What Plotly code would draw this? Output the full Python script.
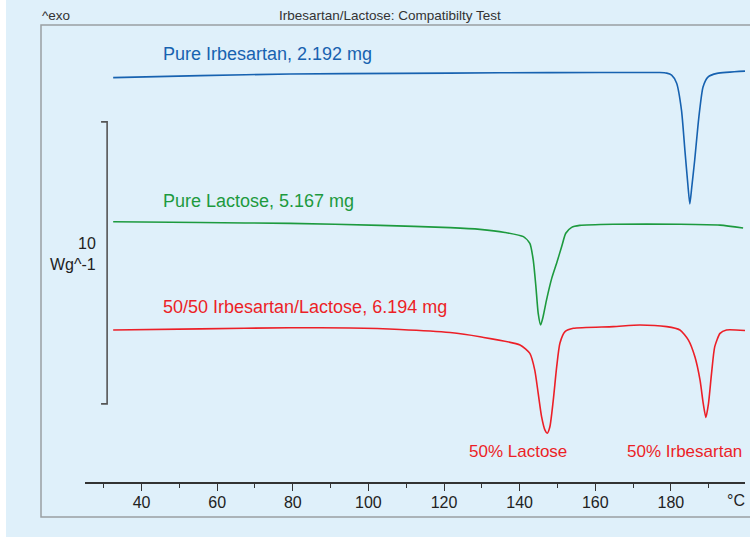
import plotly.graph_objects as go

# Temperature (°C) and heat flow (W/g, curves offset vertically)
irb_T = [32.5, 55.5, 79.3, 108.3, 134.8, 161.2, 177.1, 178.9, 180.2, 181.5, 182.8, 183.7,
         184.5, 185.0, 185.5, 186.3, 187.4, 188.5, 189.8, 192.2, 199.6]
irb_Y = [14.34, 14.41, 14.47, 14.49, 14.51, 14.52, 14.52, 14.50, 14.43, 14.15, 13.19, 11.77,
         10.53, 9.86, 10.43, 11.42, 12.94, 14.01, 14.36, 14.49, 14.57]

lac_T = [32.5, 55.5, 79.3, 103.1, 121.6, 129.5, 136.1, 141.0, 142.7, 143.6, 144.3, 144.9,
         145.55, 146.2, 147.1, 148.5, 149.8, 151.1, 152.2, 153.75, 155.9, 164.75, 182.4, 193.0, 199.1]
lac_Y = [9.23, 9.20, 9.17, 9.10, 9.02, 8.96, 8.85, 8.70, 8.46, 7.87, 6.93, 5.99,
         5.57, 5.86, 6.45, 7.23, 7.77, 8.34, 8.82, 9.03, 9.10, 9.14, 9.14, 9.11, 9.01]

mix_T = [32.5, 55.5, 79.3, 95.1, 108.35, 121.6, 129.5, 140.1, 142.7, 144.0, 144.9, 145.8,
         146.7, 147.3, 148.0, 148.9, 149.8, 150.65, 152.0, 154.2, 164.75, 171.8, 178.9,
         182.4, 184.6, 186.35, 187.7, 188.55, 189.25, 189.95, 190.75, 191.6, 193.0, 194.7, 199.6]
mix_Y = [5.39, 5.43, 5.47, 5.46, 5.41, 5.30, 5.15, 4.86, 4.56, 3.97, 3.15, 2.32,
         1.84, 1.73, 1.96, 2.91, 4.09, 4.92, 5.33, 5.45, 5.51, 5.57, 5.51,
         5.39, 5.04, 4.44, 3.62, 2.79, 2.29, 2.79, 3.85, 4.80, 5.27, 5.39, 5.37]

series_names = ["Pure Irbesartan, 2.192 mg", "Pure Lactose, 5.167 mg",
                "50/50 Irbesartan/Lactose, 6.194 mg"]
peak_labels = ["50% Lactose", "50% Irbesartan"]
major_ticks = [40, 60, 80, 100, 120, 140, 160, 180]
scale_bar = [2.77, 12.77]  # 10 W/g

BLUE = "#1762b0"
GREEN = "#1d9a3e"
RED = "#ec1f27"
BG = "#dff0fa"
FONT = "Liberation Sans, Arial, sans-serif"

fig = go.Figure()
for T, Y, c, n in [(irb_T, irb_Y, BLUE, series_names[0]),
                   (lac_T, lac_Y, GREEN, series_names[1]),
                   (mix_T, mix_Y, RED, series_names[2])]:
    fig.add_trace(go.Scatter(x=T, y=Y, mode="lines", name=n,
                             line=dict(color=c, width=1.6, shape="spline", smoothing=0.6),
                             hoverinfo="x+y+name"))

W, H = 750, 537
L, R, TOP, B = 85, 5, 25, 55
pw, ph = W - L - R, H - TOP - B

def px(xp):
    return (xp - L) / pw

def py(yp):
    return (H - B - yp) / ph

shapes = [
    # white strip on far left
    dict(type="rect", xref="paper", yref="paper", x0=px(0), x1=px(6), y0=py(H + 5), y1=py(-5),
         fillcolor="white", line=dict(width=0), layer="below"),
    # frame (open on the right)
    dict(type="path", xref="paper", yref="paper",
         path=(f"M {px(760)} {py(25)} L {px(41)} {py(25)} L {px(41)} {py(517)} "
               f"L {px(760)} {py(517)}"),
         line=dict(color="#9a9fa3", width=1.5), layer="below"),
    # scale bar bracket (10 W/g)
    dict(type="path", xref="x", yref="y",
         path=f"M 29.3 {scale_bar[0]} L 30.9 {scale_bar[0]} L 30.9 {scale_bar[1]} L 29.3 {scale_bar[1]}",
         line=dict(color="#555555", width=1.6)),
]

annotations = [
    dict(xref="paper", yref="paper", x=px(40), y=py(15), text="^exo", showarrow=False,
         xanchor="left", yanchor="middle", font=dict(size=13.5, color="#333333", family=FONT)),
    dict(xref="paper", yref="paper", x=px(390), y=py(15),
         text="Irbesartan/Lactose: Compatibilty Test", showarrow=False,
         xanchor="center", yanchor="middle", font=dict(size=13.5, color="#333333", family=FONT)),
    dict(xref="paper", yref="paper", x=px(98), y=py(243), text="10", showarrow=False,
         xanchor="right", yanchor="middle", font=dict(size=16, color="#222222", family=FONT)),
    dict(xref="paper", yref="paper", x=px(98), y=py(264), text="Wg^-1", showarrow=False,
         xanchor="right", yanchor="middle", font=dict(size=16, color="#222222", family=FONT)),
    dict(xref="paper", yref="paper", x=px(161), y=py(54), text=series_names[0], showarrow=False,
         xanchor="left", yanchor="middle", font=dict(size=18, color=BLUE, family=FONT)),
    dict(xref="paper", yref="paper", x=px(161), y=py(201), text=series_names[1], showarrow=False,
         xanchor="left", yanchor="middle", font=dict(size=18, color=GREEN, family=FONT)),
    dict(xref="paper", yref="paper", x=px(161), y=py(307), text=series_names[2], showarrow=False,
         xanchor="left", yanchor="middle", font=dict(size=18, color=RED, family=FONT)),
    dict(xref="paper", yref="paper", x=px(518), y=py(451), text=peak_labels[0], showarrow=False,
         xanchor="center", yanchor="middle", font=dict(size=17, color=RED, family=FONT)),
    dict(xref="paper", yref="paper", x=px(684), y=py(451), text=peak_labels[1], showarrow=False,
         xanchor="center", yanchor="middle", font=dict(size=17, color=RED, family=FONT)),
    dict(xref="paper", yref="paper", x=px(736), y=py(500), text="°C", showarrow=False,
         xanchor="center", yanchor="middle", font=dict(size=16, color="#222222", family=FONT)),
]

fig.update_layout(
    width=W, height=H,
    margin=dict(l=L, r=R, t=TOP, b=B, pad=0),
    paper_bgcolor=BG, plot_bgcolor=BG,
    showlegend=False,
    shapes=shapes, annotations=annotations,
    font=dict(family=FONT, color="#222222"),
    xaxis=dict(range=[25.05, 199.6], showgrid=False, zeroline=False,
               showline=True, linecolor="#333333", linewidth=1.5,
               tickmode="array", tickvals=major_ticks, ticks="outside", ticklen=7,
               tickwidth=1.3, tickcolor="#333333", ticklabelstandoff=-2,
               minor=dict(dtick=10, tick0=0, ticks="outside", ticklen=4, tickwidth=1.3,
                          tickcolor="#333333", showgrid=False),
               tickfont=dict(size=16, color="#222222", family=FONT)),
    yaxis=dict(range=[0, ph / 28.2], visible=False, showgrid=False, zeroline=False),
)

fig.write_html("out.html", config={"displayModeBar": False},
               post_script="document.body.style.margin='0';document.body.style.overflow='hidden';")
